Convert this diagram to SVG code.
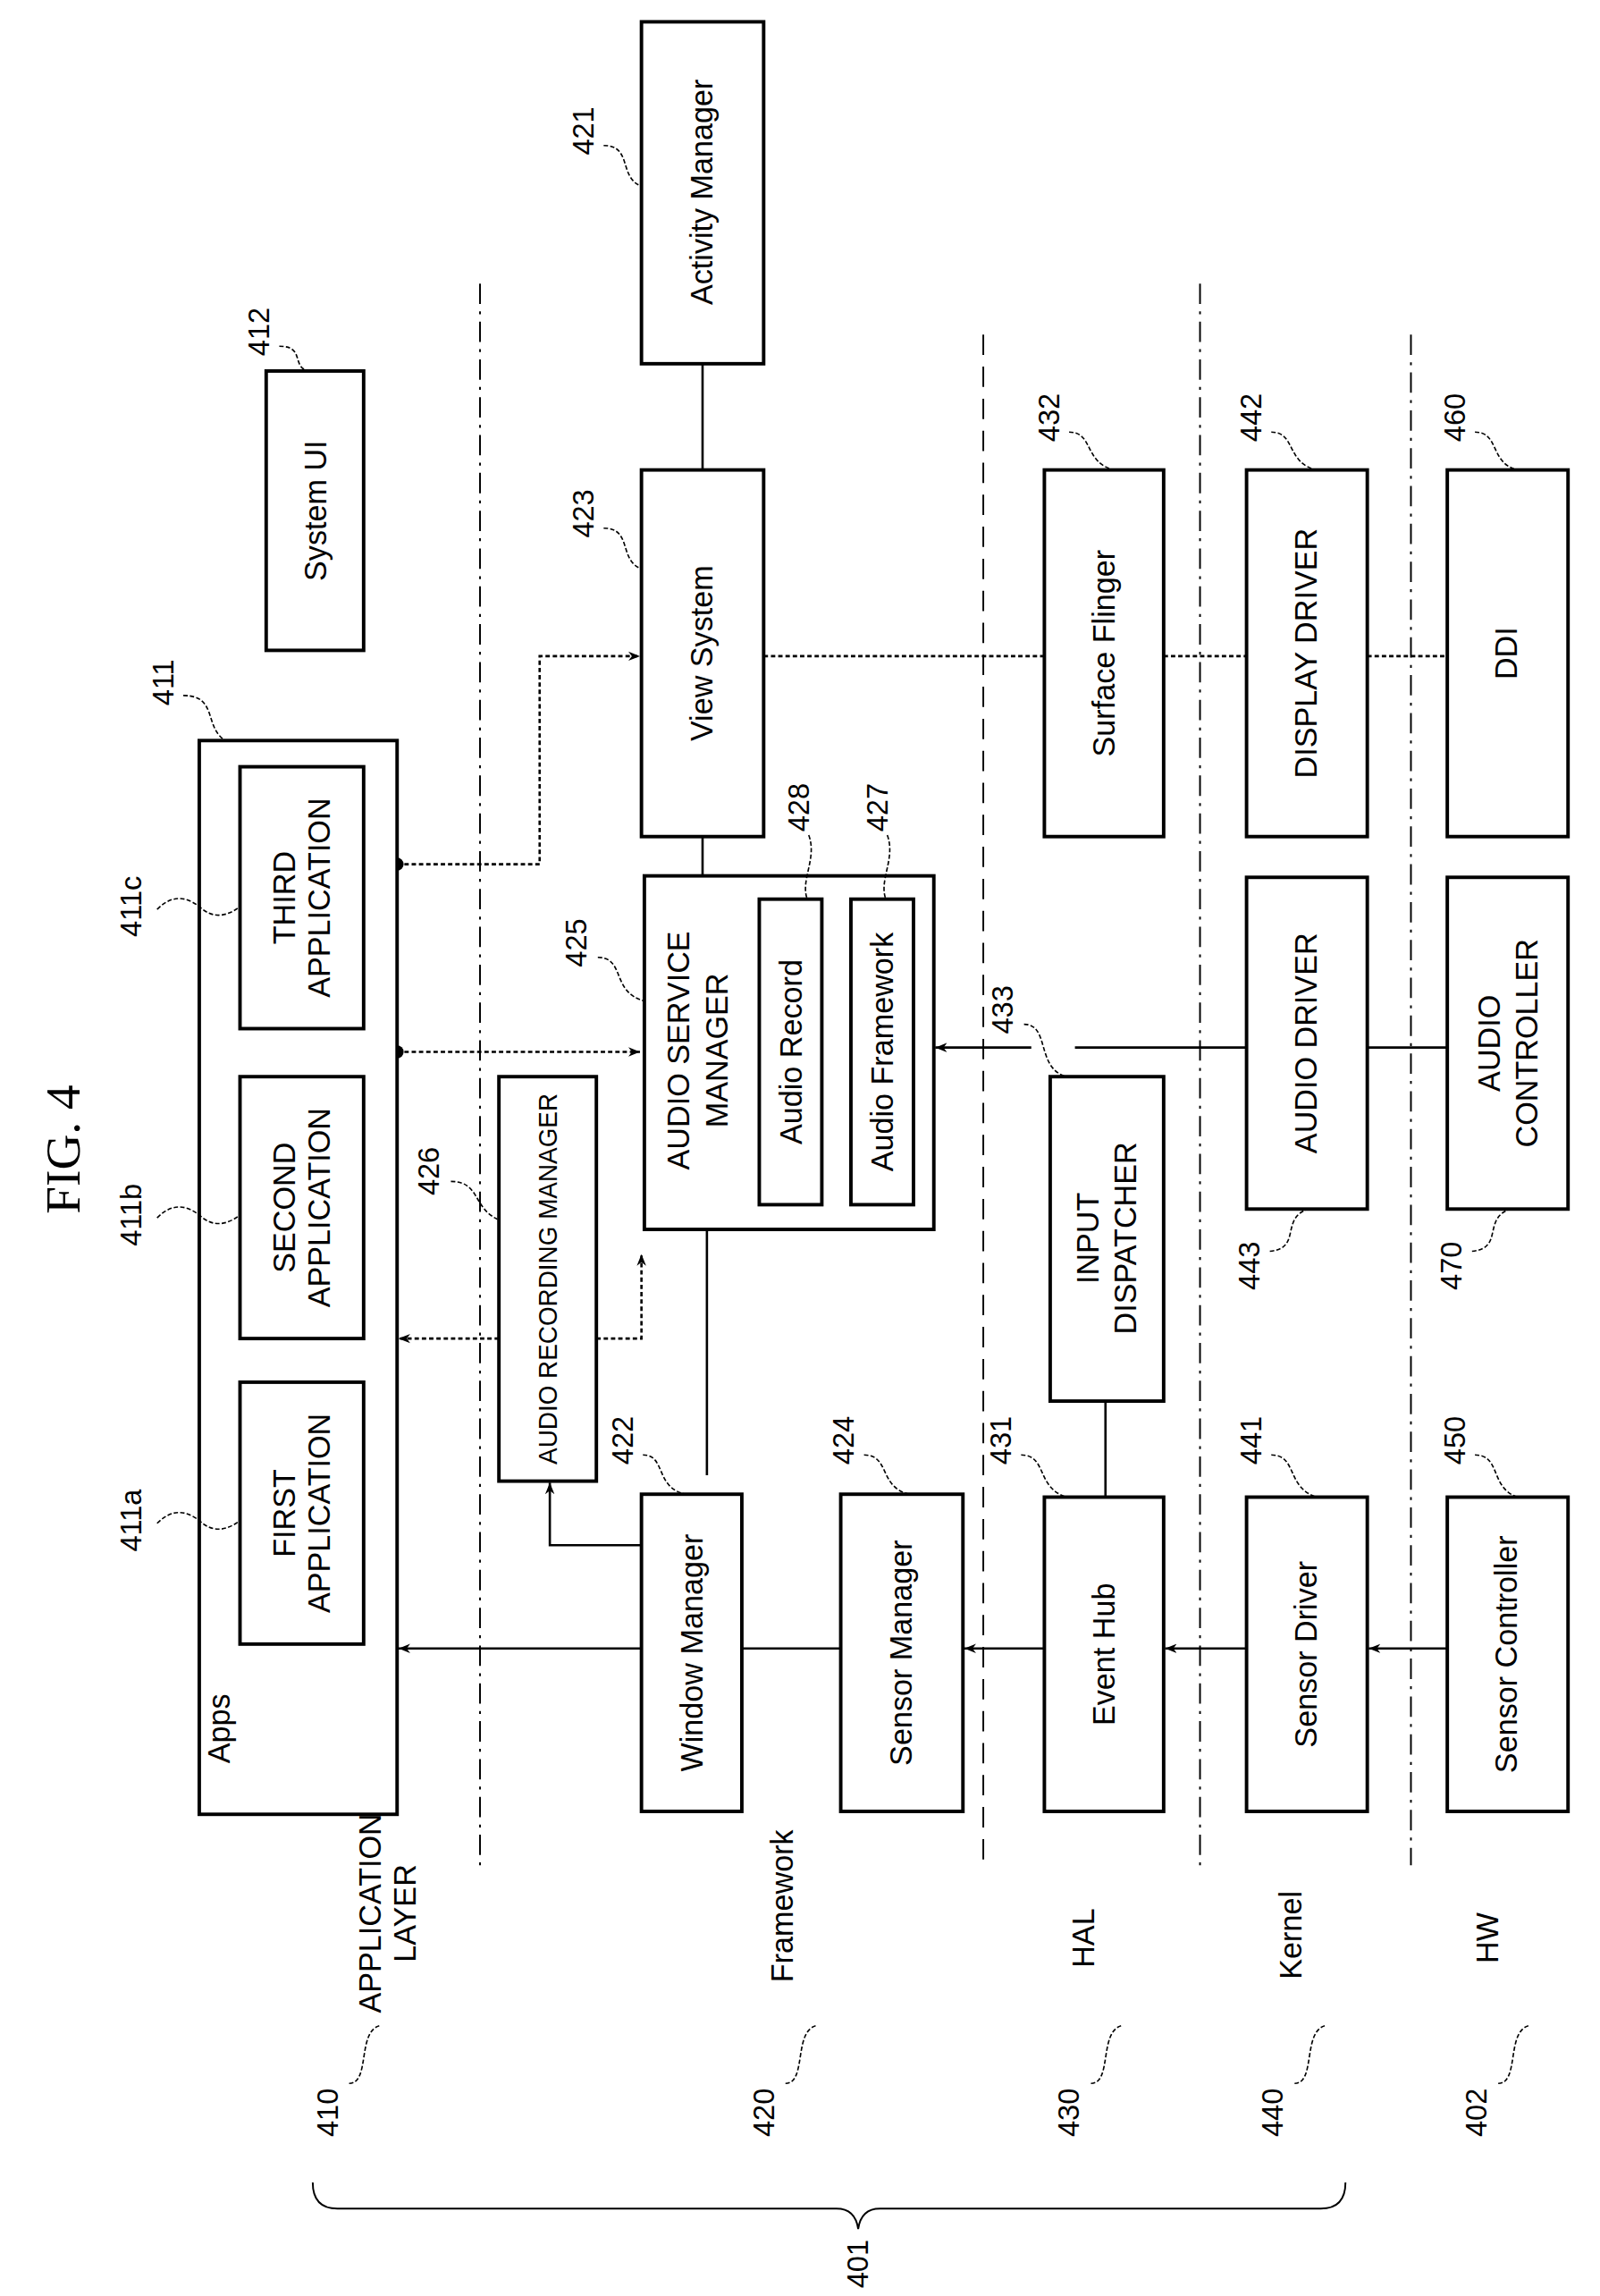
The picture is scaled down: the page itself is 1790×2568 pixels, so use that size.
<svg xmlns="http://www.w3.org/2000/svg" width="1790" height="2568" viewBox="0 0 1790 2568">
<style>
.b{fill:#fff;stroke:#000;stroke-width:2.4}
.t{font-family:"Liberation Sans Narrow","Liberation Sans",sans-serif;font-size:21px;text-anchor:middle;fill:#000}
.n{font-family:"Liberation Sans Narrow","Liberation Sans",sans-serif;font-size:20px;text-anchor:middle;fill:#000}
.l{fill:none;stroke:#000;stroke-width:1.6}
.d{fill:none;stroke:#000;stroke-width:1.6;stroke-dasharray:3 2}
.q{fill:none;stroke:#000;stroke-width:1;stroke-dasharray:3 1.5}
.sep{fill:none;stroke:#000;stroke-width:1.2;stroke-dasharray:14 8}
.sep2{fill:none;stroke:#000;stroke-width:1.2;stroke-dasharray:14 5 2 5}
</style>
<defs>
<marker id="a" viewBox="0 0 10 10" refX="10" refY="5" markerWidth="8" markerHeight="8" orient="auto" markerUnits="userSpaceOnUse"><path d="M0,1 L10,5 L0,9 L3,5 z" fill="#000"/></marker>
</defs>
<rect width="1790" height="2568" fill="#fff"/>
<g transform="scale(1.6273)">
<g id="title"><text class="t" style="font-family:'Liberation Serif',serif;font-size:34px" transform="rotate(-90 55 790)" x="55" y="790">FIG. 4</text></g>

<g id="separators">
<line class="sep2" x1="330" y1="195" x2="330" y2="1282"/>
<line class="sep" x1="676" y1="230" x2="676" y2="1282"/>
<line class="sep2" x1="825" y1="195" x2="825" y2="1282"/>
<line class="sep2" x1="970" y1="230" x2="970" y2="1282"/>
</g>

<g id="connectors">
<line class="l" x1="995" y1="1133" x2="941" y2="1133" marker-end="url(#a)"/>
<line class="l" x1="857" y1="1133" x2="801" y2="1133" marker-end="url(#a)"/>
<line class="l" x1="718" y1="1133" x2="663" y2="1133" marker-end="url(#a)"/>
<line class="l" x1="578" y1="1133" x2="510" y2="1133"/>
<line class="l" x1="441" y1="1133" x2="274" y2="1133" marker-end="url(#a)"/>
<path class="l" d="M441,1062 H378 V1019" marker-end="url(#a)"/>
<path class="d" d="M343,920 H274" marker-end="url(#a)"/>
<path class="d" d="M410,920 H441 V862" marker-end="url(#a)"/>
<line class="l" x1="486" y1="845" x2="486" y2="1014"/>
<path class="d" d="M273,594 H371 V451 H440" marker-end="url(#a)"/>
<path class="d" d="M273,723 H440" marker-end="url(#a)"/>
<circle cx="273" cy="594" r="4.5" fill="#000"/>
<circle cx="273" cy="723" r="4.5" fill="#000"/>
<line class="l" x1="483" y1="575" x2="483" y2="602"/>
<line class="l" x1="483" y1="250" x2="483" y2="323"/>
<line class="d" x1="525" y1="451" x2="718" y2="451"/>
<line class="d" x1="800" y1="451" x2="857" y2="451"/>
<line class="d" x1="940" y1="451" x2="995" y2="451"/>
<line class="l" x1="760" y1="963" x2="760" y2="1029"/>
<line class="l" x1="709" y1="720" x2="643" y2="720" marker-end="url(#a)"/>
<line class="l" x1="739" y1="720" x2="857" y2="720"/>
<line class="l" x1="940" y1="720" x2="995" y2="720"/>
</g>

<g id="apps"><rect class="b" x="137" y="509" width="136" height="738"/>
<text class="t" transform="rotate(-90 158 1188)" x="158" y="1188">Apps</text>
<text class="n" transform="rotate(-90 119 469)" x="119" y="469">411</text><path class="q" d="M126,478 C150,478 140,500 155,509"/></g>
<g id="app1"><rect class="b" x="165" y="950" width="85" height="180"/>
<text class="t" transform="rotate(-90 207 1040)" x="207" y="1040"><tspan x="207" dy="-4">FIRST</tspan><tspan x="207" dy="24">APPLICATION</tspan></text>
<text class="n" transform="rotate(-90 97 1045)" x="97" y="1045">411a</text><path class="q" d="M108,1047 C120,1035 130,1040 137,1045 C145,1053 155,1053 165,1045"/></g>
<g id="app2"><rect class="b" x="165" y="740" width="85" height="180"/>
<text class="t" transform="rotate(-90 207 830)" x="207" y="830"><tspan x="207" dy="-4">SECOND</tspan><tspan x="207" dy="24">APPLICATION</tspan></text>
<text class="n" transform="rotate(-90 97 835)" x="97" y="835">411b</text><path class="q" d="M108,837 C120,825 130,830 137,835 C145,843 155,843 165,835"/></g>
<g id="app3"><rect class="b" x="165" y="527" width="85" height="180"/>
<text class="t" transform="rotate(-90 207 617)" x="207" y="617"><tspan x="207" dy="-4">THIRD</tspan><tspan x="207" dy="24">APPLICATION</tspan></text>
<text class="n" transform="rotate(-90 97 623)" x="97" y="623">411c</text><path class="q" d="M108,625 C120,613 130,618 137,623 C145,631 155,631 165,623"/></g>
<g id="sysui"><rect class="b" x="183" y="255" width="67" height="192"/>
<text class="t" transform="rotate(-90 224 351)" x="224" y="351">System UI</text>
<text class="n" transform="rotate(-90 185 228)" x="185" y="228">412</text><path class="q" d="M192,238 C210,238 200,252 212,255"/></g>
<g id="arm"><rect class="b" x="343" y="740" width="67" height="278"/>
<text class="t" style="font-size:18px" transform="rotate(-90 383 879)" x="383" y="879" textLength="255" lengthAdjust="spacingAndGlyphs">AUDIO RECORDING MANAGER</text>
<text class="n" transform="rotate(-90 302 805)" x="302" y="805">426</text><path class="q" d="M310,812 C330,812 325,830 342,838"/></g>
<g id="wm"><rect class="b" x="441" y="1027" width="69" height="218"/>
<text class="t" transform="rotate(-90 483 1136)" x="483" y="1136">Window Manager</text>
<text class="n" transform="rotate(-90 435 990)" x="435" y="990">422</text><path class="q" d="M442,1000 C458,1000 450,1022 471,1027"/></g>
<g id="sm"><rect class="b" x="578" y="1027" width="84" height="218"/>
<text class="t" transform="rotate(-90 627 1136)" x="627" y="1136">Sensor Manager</text>
<text class="n" transform="rotate(-90 587 990)" x="587" y="990">424</text><path class="q" d="M594,1000 C612,1000 604,1022 625,1027"/></g>
<g id="eh"><rect class="b" x="718" y="1029" width="82" height="216"/>
<text class="t" transform="rotate(-90 766 1137)" x="766" y="1137">Event Hub</text>
<text class="n" transform="rotate(-90 695 990)" x="695" y="990">431</text><path class="q" d="M702,1000 C720,1000 712,1022 733,1029"/></g>
<g id="sd"><rect class="b" x="857" y="1029" width="83" height="216"/>
<text class="t" transform="rotate(-90 905 1137)" x="905" y="1137">Sensor Driver</text>
<text class="n" transform="rotate(-90 867 990)" x="867" y="990">441</text><path class="q" d="M874,1000 C892,1000 884,1022 905,1029"/></g>
<g id="sc"><rect class="b" x="995" y="1029" width="83" height="216"/>
<text class="t" transform="rotate(-90 1043 1137)" x="1043" y="1137">Sensor Controller</text>
<text class="n" transform="rotate(-90 1007 990)" x="1007" y="990">450</text><path class="q" d="M1014,1000 C1032,1000 1024,1022 1043,1029"/></g>
<g id="id"><rect class="b" x="722" y="740" width="78" height="223"/>
<text class="t" transform="rotate(-90 761 851)" x="761" y="851"><tspan x="761" dy="-6">INPUT</tspan><tspan x="761" dy="26">DISPATCHER</tspan></text>
<text class="n" transform="rotate(-90 696 694)" x="696" y="694">433</text><path class="q" d="M704,704 C722,704 712,734 733,740"/></g>
<g id="ad"><rect class="b" x="857" y="603" width="83" height="228"/>
<text class="t" transform="rotate(-90 905 717)" x="905" y="717">AUDIO DRIVER</text>
<text class="n" transform="rotate(-90 866 870)" x="866" y="870">443</text><path class="q" d="M873,860 C895,858 880,838 899,831"/></g>
<g id="ac"><rect class="b" x="995" y="603" width="83" height="228"/>
<text class="t" transform="rotate(-90 1037 717)" x="1037" y="717"><tspan x="1037" dy="-6">AUDIO</tspan><tspan x="1037" dy="26">CONTROLLER</tspan></text>
<text class="n" transform="rotate(-90 1005 870)" x="1005" y="870">470</text><path class="q" d="M1012,860 C1034,858 1019,838 1038,831"/></g>
<g id="asm"><rect class="b" x="443" y="602" width="199" height="243"/>
<text class="t" transform="rotate(-90 480 722)" x="480" y="722"><tspan x="480" dy="-6">AUDIO SERVICE</tspan><tspan x="480" dy="26">MANAGER</tspan></text>
<text class="n" transform="rotate(-90 403 648)" x="403" y="648">425</text><path class="q" d="M411,658 C430,658 420,682 443,688"/></g>
<g id="ar"><rect class="b" x="522" y="618" width="43" height="210"/>
<text class="t" transform="rotate(-90 551 723)" x="551" y="723">Audio Record</text>
<text class="n" transform="rotate(-90 556 555)" x="556" y="555">428</text><path class="q" d="M556,574 C562,590 550,605 555,618"/></g>
<g id="af"><rect class="b" x="585" y="618" width="43" height="210"/>
<text class="t" transform="rotate(-90 614 723)" x="614" y="723">Audio Framework</text>
<text class="n" transform="rotate(-90 610 555)" x="610" y="555">427</text><path class="q" d="M610,574 C616,590 604,605 609,618"/></g>
<g id="vs"><rect class="b" x="441" y="323" width="84" height="252"/>
<text class="t" transform="rotate(-90 490 449)" x="490" y="449">View System</text>
<text class="n" transform="rotate(-90 408 353)" x="408" y="353">423</text><path class="q" d="M415,363 C435,363 425,385 441,391"/></g>
<g id="am"><rect class="b" x="441" y="15" width="84" height="235"/>
<text class="t" transform="rotate(-90 490 132)" x="490" y="132">Activity Manager</text>
<text class="n" transform="rotate(-90 408 90)" x="408" y="90">421</text><path class="q" d="M415,100 C435,100 425,122 441,128"/></g>
<g id="sf"><rect class="b" x="718" y="323" width="82" height="252"/>
<text class="t" transform="rotate(-90 766 449)" x="766" y="449">Surface Flinger</text>
<text class="n" transform="rotate(-90 728 287)" x="728" y="287">432</text><path class="q" d="M735,297 C752,297 745,318 766,323"/></g>
<g id="dd"><rect class="b" x="857" y="323" width="83" height="252"/>
<text class="t" transform="rotate(-90 905 449)" x="905" y="449">DISPLAY DRIVER</text>
<text class="n" transform="rotate(-90 867 287)" x="867" y="287">442</text><path class="q" d="M874,297 C891,297 884,318 905,323"/></g>
<g id="ddi"><rect class="b" x="995" y="323" width="83" height="252"/>
<text class="t" transform="rotate(-90 1043 449)" x="1043" y="449">DDI</text>
<text class="n" transform="rotate(-90 1007 287)" x="1007" y="287">460</text><path class="q" d="M1014,297 C1031,297 1024,318 1043,323"/></g>

<g id="layers">
<text class="n" transform="rotate(-90 232 1452)" x="232" y="1452">410</text><path class="q" d="M240,1432 C255,1432 245,1395 262,1392"/>
<text class="t" transform="rotate(-90 268 1315)" x="268" y="1315"><tspan x="268" dy="-6">APPLICATION</tspan><tspan x="268" dy="24">LAYER</tspan></text>
<text class="n" transform="rotate(-90 532 1452)" x="532" y="1452">420</text><path class="q" d="M540,1432 C555,1432 545,1395 562,1392"/>
<text class="t" transform="rotate(-90 545 1310)" x="545" y="1310">Framework</text>
<text class="n" transform="rotate(-90 742 1452)" x="742" y="1452">430</text><path class="q" d="M750,1432 C765,1432 755,1395 772,1392"/>
<text class="t" transform="rotate(-90 752 1332)" x="752" y="1332">HAL</text>
<text class="n" transform="rotate(-90 882 1452)" x="882" y="1452">440</text><path class="q" d="M890,1432 C905,1432 895,1395 912,1392"/>
<text class="t" transform="rotate(-90 895 1330)" x="895" y="1330">Kernel</text>
<text class="n" transform="rotate(-90 1022 1452)" x="1022" y="1452">402</text><path class="q" d="M1030,1432 C1045,1432 1035,1395 1052,1392"/>
<text class="t" transform="rotate(-90 1030 1332)" x="1030" y="1332">HW</text>
<path class="l" style="stroke-width:1.2" d="M215,1500 Q215,1518 232,1518 H575 Q588,1518 590,1532 Q592,1518 605,1518 H908 Q925,1518 925,1500"/>
<text class="n" transform="rotate(-90 597 1556)" x="597" y="1556">401</text>
</g>
</g>
</svg>
